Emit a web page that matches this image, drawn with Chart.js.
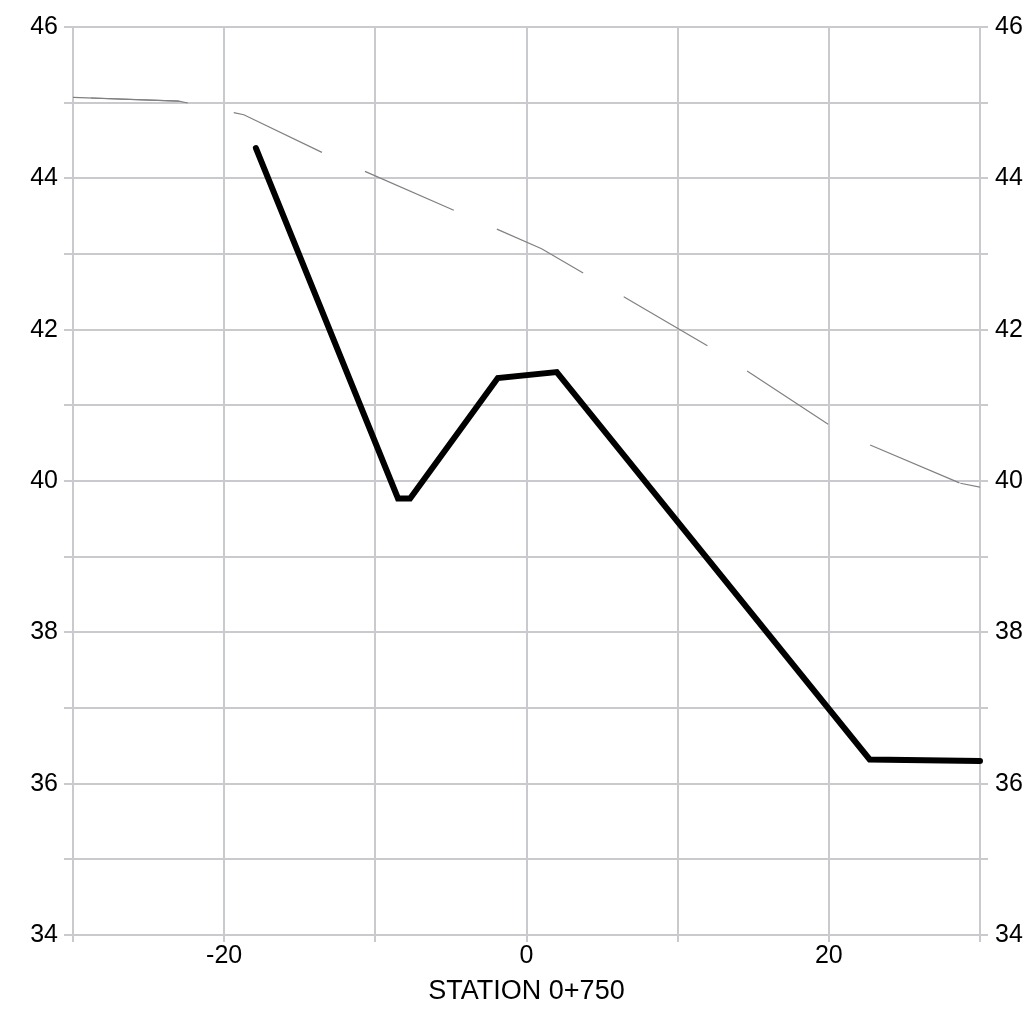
<!DOCTYPE html>
<html>
<head>
<meta charset="utf-8">
<script src="https://cdn.jsdelivr.net/npm/chart.js@4"></script>
<style>
    body { margin: 0; background: #fff; }
</style>
</head>
<body>
<canvas id="section" width="1026" height="1023"></canvas>
<script>
// offset from centreline (m) and elevation (m)
const groundX = [-30, -23, -18.7, -13.4, 1.0, 12.8, 20.8, 28.7, 30];
const groundY = [45.07, 45.02, 44.84, 44.33, 43.07, 41.69, 40.64, 39.97, 39.92];

const bedX = [-17.9, -8.5, -7.7, -1.9, 2.0, 22.7, 30];
const bedY = [44.40, 39.77, 39.77, 41.36, 41.44, 36.32, 36.30];

const xLabels = [-20, 0, 20];
const yLabels = [34, 36, 38, 40, 42, 44, 46];
const axisTitle = "STATION 0+750";

const gridColor = "#c8cacd";
const tickFont = { family: "'Liberation Sans', Arial, sans-serif", size: 25 };

function toPoints(xs, ys) {
    return xs.map((x, i) => ({ x: x, y: ys[i] }));
}

const ground = toPoints(groundX, groundY);

// dashed ground line, the pattern ends are long dashes so draw them solid
const thinLine = { borderColor: "#808080", borderWidth: 1.2, pointRadius: 0, tension: 0, fill: false };

new Chart(document.getElementById("section"), {
    type: "line",
    data: {
        datasets: [
            Object.assign({ data: ground, borderDash: [97, 47], borderDashOffset: 126 }, thinLine),
            Object.assign({ data: ground.slice(0, 2) }, thinLine),
            Object.assign({ data: ground.slice(-2) }, thinLine),
            {
                data: toPoints(bedX, bedY),
                borderColor: "#000",
                borderWidth: 6,
                borderCapStyle: "round",
                borderJoinStyle: "miter",
                pointRadius: 0,
                tension: 0,
                fill: false,
                clip: false
            }
        ]
    },
    options: {
        responsive: false,
        animation: false,
        layout: { padding: { top: 27, left: 0, right: 0, bottom: 0 } },
        plugins: { legend: { display: false }, tooltip: { enabled: false } },
        scales: {
            x: {
                type: "linear",
                min: -30,
                max: 30,
                afterFit: s => { s.height = 88; },
                grid: { color: gridColor, lineWidth: 2, tickLength: 7 },
                border: { color: gridColor, width: 2 },
                ticks: {
                    stepSize: 10,
                    padding: -1,
                    color: "#000",
                    font: tickFont,
                    maxRotation: 0,
                    autoSkip: false,
                    callback: v => xLabels.includes(v) ? String(v) : ""
                },
                title: {
                    display: true,
                    text: axisTitle,
                    color: "#000",
                    font: { family: "'Liberation Sans', Arial, sans-serif", size: 27 },
                    padding: { top: 0, bottom: 15 }
                }
            },
            y: {
                position: "left",
                min: 34,
                max: 46,
                afterFit: s => { s.width = 73; },
                grid: { color: gridColor, lineWidth: 2, tickLength: 9 },
                border: { color: gridColor, width: 2 },
                ticks: {
                    stepSize: 1,
                    padding: 6,
                    color: "#000",
                    font: tickFont,
                    autoSkip: false,
                    callback: v => yLabels.includes(v) ? String(v) : ""
                }
            },
            y2: {
                position: "right",
                min: 34,
                max: 46,
                afterFit: s => { s.width = 46; },
                grid: { color: gridColor, lineWidth: 2, tickLength: 8, drawOnChartArea: false },
                border: { color: gridColor, width: 2 },
                ticks: {
                    stepSize: 1,
                    padding: 7,
                    color: "#000",
                    font: tickFont,
                    autoSkip: false,
                    callback: v => yLabels.includes(v) ? String(v) : ""
                }
            }
        }
    }
});
</script>
</body>
</html>
